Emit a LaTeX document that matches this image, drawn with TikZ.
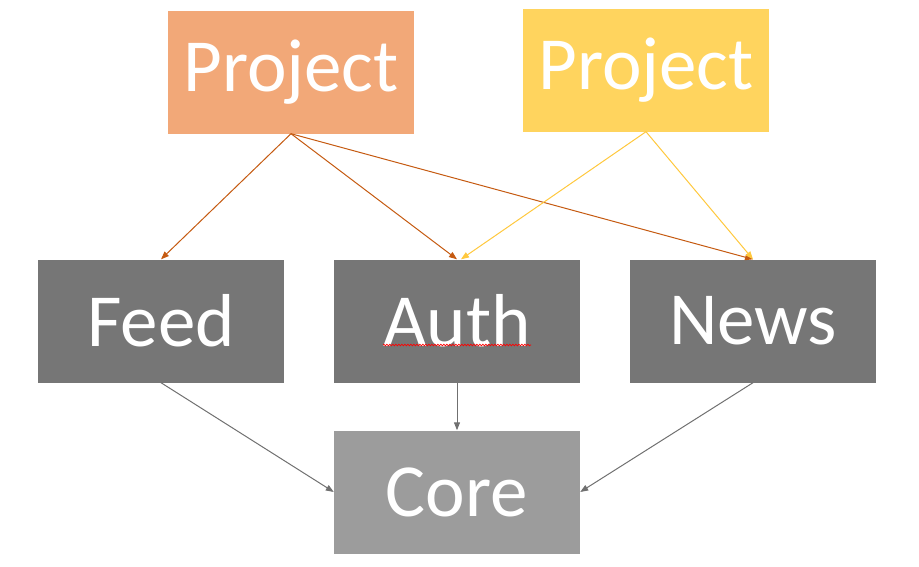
\documentclass[tikz,border=0pt]{standalone}
\usepackage{fontspec}
\setmainfont{Carlito}
\usetikzlibrary{positioning}
\usetikzlibrary{arrows.meta}
\usetikzlibrary{decorations.pathmorphing}

\definecolor{projorange}{HTML}{F2A878}
\definecolor{projyellow}{HTML}{FFD45E}
\definecolor{modgrey}{HTML}{767676}
\definecolor{coregrey}{HTML}{9C9C9C}
\definecolor{linkorange}{HTML}{C55A11}
\definecolor{linkyellow}{HTML}{FFC83D}
\definecolor{linkgrey}{HTML}{707070}

\begin{document}
\begin{tikzpicture}[x=1pt, y=-1pt,
		box/.style={rectangle, minimum width=246pt, minimum height=123pt, inner sep=0pt, text=white, font=\fontsize{75}{82}\selectfont},
		link/.style={line width=1pt, -{Triangle[length=8pt,width=6pt]}}]
				\useasboundingbox (0,0) rectangle (919,566);
				\node[box, fill=projorange] (p1) at (291,72) {Project};
				\node[box, fill=projyellow] (p2) at (646,70) {Project};
				\node[box, fill=modgrey] (feed) at (161,321) {Feed};
				\node[box, fill=modgrey] (auth) at (457,321) {Auth};
				\node[box, fill=modgrey] (news) at (753,321) {News};
				\node[box, fill=coregrey] (core) at (457,492) {Core};
				
				\draw[link, linkorange]  (p1.south) -- (feed.north);
				\draw[link, linkorange]  (p1.south) -- (auth.north);
				\draw[link, linkorange]  (p1.south) -- (news.north);
				\draw[link, linkyellow]  (p2.south) -- ([xshift=4pt]auth.north);
				\draw[link, linkyellow]  (p2.south) -- (news.north);
				\draw[link, linkgrey]  (feed.south) -- (core.west);
				\draw[link, linkgrey]  (auth.south) -- (core.north);
				\draw[link, linkgrey]  (news.south) -- (core.east);
				
				% spell-check squiggle under Auth
				\draw[red, line width=0.7pt, decorate, decoration={snake, amplitude=0.8pt, segment length=3pt}] (383,345) -- (531,345);
			\end{tikzpicture}
\end{document}
